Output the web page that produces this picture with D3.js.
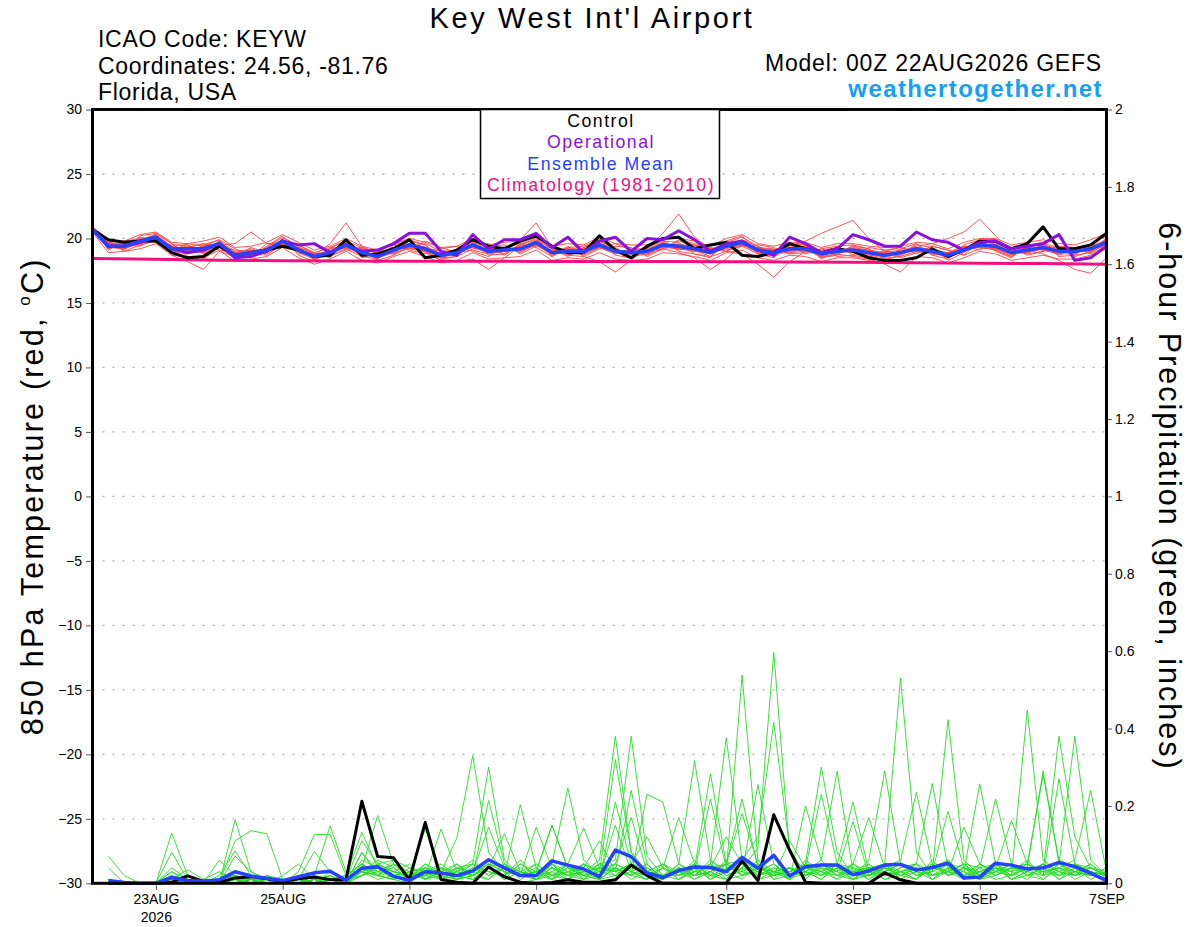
<!DOCTYPE html>
<html>
<head>
<meta charset="utf-8">
<title>Key West Int'l Airport - GEFS meteogram</title>
<style>
  body { margin: 0; background: #fff; }
  svg { display: block; font-family: "Liberation Sans", Arial, Helvetica, sans-serif; }
  .axis text { font-size: 14px; fill: #000; font-family: "Liberation Sans", Arial, sans-serif; }
  .axis line { stroke: #555; stroke-width: 1; }
  .axis .domain { display: none; }
  .grid { stroke: #b0b0b0; stroke-width: 1.3; stroke-dasharray: 2,8; }
  .member-t { fill: none; stroke: #ff4646; stroke-width: 1; opacity: 0.9; }
  .member-p { fill: none; stroke: #26dc26; stroke-width: 0.9; }
  .thick { fill: none; stroke-linejoin: round; }
</style>
</head>
<body>
<svg id="chart" width="1200" height="927"></svg>
<script src="https://d3js.org/d3.v7.min.js"></script>
<script>
  // Run info
  const runStart = new Date(Date.UTC(2026, 7, 22, 0));
  const runEnd = new Date(Date.UTC(2026, 8, 7, 0));
  const stepHours = 6;

  // Tick values
  const tempTicks = [-30, -25, -20, -15, -10, -5, 0, 5, 10, 15, 20, 25, 30];
  const precipTicks = [0, 0.2, 0.4, 0.6, 0.8, 1, 1.2, 1.4, 1.6, 1.8, 2];
  const dateTicks = ["2026-08-23", "2026-08-25", "2026-08-27", "2026-08-29", "2026-09-01", "2026-09-03", "2026-09-05", "2026-09-07"];
  const dateLabels = ["23AUG", "25AUG", "27AUG", "29AUG", "1SEP", "3SEP", "5SEP", "7SEP"];

  // 850 hPa temperature (C), 00Z 22AUG -> 00Z 7SEP every 6 h
  const controlTemp = [20.7,19.9,19.7,19.8,19.8,18.9,18.5,18.6,19.4,18.7,18.9,19.1,19.4,19.1,18.6,18.7,19.9,18.7,18.8,19.2,19.9,18.5,18.7,19.1,19.9,
    19.4,19.2,19.8,20.2,19.4,18.9,18.9,20.2,19.1,18.5,19.4,20.0,20.1,19.2,19.5,19.7,18.7,18.6,18.9,19.6,
    19.2,18.9,19.2,19.0,18.5,18.3,18.3,18.5,19.2,18.6,19.1,19.8,19.8,19.2,19.6,20.9,19.2,19.2,19.5,20.4];
  const operationalTemp = [20.7,19.4,19.4,19.7,20.1,19.2,18.9,19.1,19.6,18.5,18.6,19.0,19.8,19.5,19.6,18.9,19.5,19.0,19.1,19.6,20.4,20.4,19.0,18.7,20.3,
    19.2,19.9,19.9,20.4,19.3,20.1,18.9,19.8,20.1,19.0,20.0,19.9,20.6,19.9,19.0,19.6,19.8,19.1,18.7,20.1,
    19.6,18.9,19.2,20.3,19.9,19.4,19.4,20.5,19.9,19.7,19.1,19.7,19.8,19.2,19.4,19.6,20.3,18.3,18.5,19.4];
  const meanTemp = [20.7,19.4,19.4,19.8,20.1,19.2,19.2,19.2,19.6,18.7,18.9,19.1,19.8,
    19.1,18.6,18.9,19.5,18.9,18.6,19.1,19.5,19.2,18.7,18.9,19.5,19.0,
    19.1,19.2,19.7,18.9,19.0,19.0,19.5,19.0,18.9,19.0,19.5,19.4,19.2,
    18.9,19.4,19.7,19.1,18.9,19.2,19.2,18.8,19.0,19.1,18.9,18.7,18.9,
    19.2,19.0,18.7,19.1,19.5,19.4,18.9,19.1,19.3,19.0,19.0,19.2,19.7];
  // daily climatology, 00Z 22AUG -> 00Z 7SEP
  const climoTemp = [18.45,18.38,18.32,18.28,18.25,18.24,18.23,18.22,18.22,18.21,18.2,18.18,18.15,18.12,18.08,18.05,18.0];

  const memberTemps = [
    [20.8,19.6,19.3,19.9,20.3,19.0,18.8,19.4,19.9,18.5,18.7,19.3,20.1,19.4,18.3,19.2,19.9,18.6,18.4,19.5,19.8,18.9,18.3,19.2,19.8,18.7,18.8,19.6,20.1,18.6,19.3,19.4,19.9,18.7,18.5,19.4,19.9,19.0,18.8,18.6,19.8,20.2,18.8,18.5,19.6,19.5,18.4,19.4,19.5,18.6,18.3,19.2,19.6,18.7,18.4,19.5,19.9,19.0,18.5,19.5,19.7,18.6,18.7,19.6,20.2],
    [20.6,19.2,19.6,19.7,19.9,19.4,19.5,18.9,19.3,18.9,19.2,18.8,19.5,19.3,18.9,18.6,19.2,19.3,18.9,18.8,19.3,19.6,19.0,18.6,19.2,19.4,19.5,18.8,19.4,19.3,18.7,18.6,19.2,19.4,19.3,18.6,19.2,19.9,19.6,19.3,19.1,19.4,19.5,19.3,18.8,18.9,19.2,18.6,18.7,19.3,19.1,18.5,18.9,19.4,19.1,18.7,19.2,19.8,19.3,18.7,19.0,19.4,19.3,18.8,19.4],
    [20.9,19.5,19.1,20.2,20.4,19.6,18.6,18.3,19.8,19.0,18.5,19.4,20.2,18.7,18.2,19.3,19.8,18.5,18.9,19.6,19.9,19.5,18.4,18.6,19.9,19.3,18.7,19.5,20.0,19.2,18.6,19.3,19.8,19.2,18.4,19.3,19.8,19.7,18.8,18.5,19.7,20.1,19.4,18.6,19.5,19.6,18.5,18.7,19.5,19.2,18.4,18.6,19.5,19.3,18.3,18.9,19.8,19.7,19.2,18.8,19.6,19.3,18.6,19.0,20.0],
    [20.5,19.8,19.7,19.5,19.8,19.1,19.3,19.6,19.4,18.4,19.0,19.2,19.6,19.5,18.8,18.7,19.1,19.2,18.5,18.9,19.2,19.8,19.3,18.9,19.1,18.8,19.3,19.0,19.5,19.1,19.2,18.7,19.3,19.6,19.1,18.7,19.3,19.2,19.5,19.2,19.0,19.5,19.3,19.1,18.9,19.0,19.1,19.3,18.9,18.6,19.0,19.3,19.0,18.8,18.9,19.4,19.3,19.1,18.6,19.3,19.1,18.8,19.2,19.5,19.5],
    [20.7,19.3,19.5,19.6,20.0,18.7,18.2,17.6,19.0,18.6,19.1,18.9,19.7,19.0,18.5,19.0,19.7,19.1,18.3,18.7,19.4,19.0,18.8,19.1,19.4,18.9,19.0,19.3,19.8,18.8,18.9,19.1,19.6,18.9,18.8,19.1,19.6,19.3,19.0,18.8,19.3,19.8,19.0,18.8,19.1,19.3,18.9,18.9,19.0,18.8,18.6,19.0,19.3,19.1,18.6,19.0,19.6,19.5,18.8,19.0,19.4,19.1,18.9,19.3,19.8],
    [20.8,19.5,19.2,19.9,20.2,19.3,19.0,19.1,19.5,18.8,18.8,19.0,19.9,19.2,18.7,19.6,21.2,19.4,18.8,19.3,19.6,19.1,18.6,18.8,19.6,19.1,19.2,19.1,19.6,19.0,19.1,18.9,19.4,19.1,19.0,18.9,19.4,19.5,19.3,19.0,19.5,19.6,19.0,18.8,19.3,19.1,18.7,19.1,19.2,19.0,18.8,18.8,19.1,18.9,18.8,19.2,19.4,19.3,19.0,19.2,19.2,18.9,19.1,19.1,19.6],
    [20.6,19.4,19.5,19.8,20.1,19.2,19.3,19.3,19.6,18.7,18.9,19.1,19.8,19.0,18.6,18.9,19.4,18.9,18.7,19.0,19.5,19.3,18.8,18.9,19.4,19.6,19.1,19.9,21.2,19.3,18.9,19.0,19.4,19.0,19.0,19.0,19.5,19.4,19.1,18.9,19.4,19.6,19.2,19.0,19.2,19.1,18.9,19.0,19.1,18.9,18.8,18.9,19.2,19.0,18.8,19.1,19.5,19.4,19.0,19.1,19.3,19.0,19.1,19.2,19.7],
    [20.7,19.7,19.3,19.6,20.0,19.0,19.1,19.0,19.4,18.8,18.6,19.3,19.6,19.2,18.4,18.8,19.3,18.8,18.7,19.2,19.3,19.0,18.5,19.0,19.3,18.9,19.2,19.0,19.5,18.8,19.2,18.8,19.3,18.8,19.1,19.2,20.4,21.9,20.1,19.2,19.2,19.5,18.9,18.7,19.0,19.4,18.6,19.2,19.0,18.7,18.5,19.1,19.0,18.9,18.5,19.3,19.3,19.2,18.7,19.3,19.1,18.8,18.8,19.4,19.5],
    [20.8,19.2,19.6,19.7,20.2,19.3,19.2,19.3,19.7,18.9,19.0,19.0,19.9,19.0,18.8,19.0,19.6,19.0,18.5,19.1,19.6,19.3,18.8,18.8,19.6,19.1,19.0,19.3,19.8,19.0,19.1,19.2,19.5,19.1,18.8,18.8,19.4,19.2,19.1,18.6,19.0,18.8,18.0,17.0,18.2,19.0,18.9,18.9,19.2,19.1,18.8,18.8,19.3,19.1,18.8,19.0,19.6,19.3,19.0,19.0,19.4,19.2,19.0,19.1,19.8],
    [20.6,19.3,19.4,19.9,20.0,19.1,19.1,19.4,19.5,18.6,18.9,19.2,19.7,19.1,18.5,18.8,19.4,18.7,18.6,19.2,19.4,19.1,18.6,19.0,19.4,19.1,19.2,19.1,19.6,19.0,19.1,18.9,19.6,19.0,18.9,19.1,19.4,19.3,19.3,19.0,19.3,19.6,19.2,19.1,19.4,19.8,20.4,20.9,21.4,20.0,19.0,18.9,19.2,19.0,18.6,19.0,19.4,19.5,18.8,19.1,19.2,18.9,19.1,19.3,19.6],
    [20.7,19.5,19.2,19.6,19.9,19.4,19.0,19.2,19.5,18.8,18.8,19.0,19.9,19.2,18.7,18.9,19.5,19.0,18.7,18.9,19.6,19.3,18.8,18.7,19.5,19.0,19.0,19.2,19.7,18.9,19.0,19.1,19.4,19.1,18.9,19.0,19.6,19.5,19.2,18.8,19.5,19.7,19.1,19.0,19.1,19.2,18.8,19.1,19.0,18.9,18.6,19.0,19.4,19.6,20.0,20.5,21.5,20.2,18.9,19.0,19.2,19.1,18.9,19.2,19.7],
    [20.8,19.6,19.5,19.8,20.2,19.2,19.4,19.0,19.6,18.7,19.0,19.2,19.8,19.1,18.6,19.0,19.6,18.9,18.6,19.1,19.5,19.2,18.7,18.9,19.5,19.0,19.1,19.2,19.6,18.9,19.0,19.0,19.5,19.0,18.9,19.0,19.5,19.4,19.2,18.9,19.4,19.7,19.1,18.9,19.2,19.2,18.8,19.0,19.1,18.9,18.7,18.9,19.2,19.0,18.7,19.1,19.5,19.4,18.9,19.1,18.8,18.3,17.6,17.3,18.5],
    [20.6,19.9,19.0,19.5,20.4,19.6,18.8,19.5,19.9,19.2,18.6,19.6,19.4,19.5,18.9,18.5,19.8,19.3,18.4,19.5,19.1,18.8,19.2,19.4,19.0,18.6,19.4,19.6,19.3,18.6,19.4,18.6,18.2,17.4,18.3,19.3,19.1,19.8,19.5,19.2,19.0,19.9,19.4,18.6,19.5,18.8,19.2,19.4,18.7,18.5,19.1,19.3,18.8,19.4,19.1,18.7,19.8,19.1,18.6,19.4,19.5,18.7,19.3,19.5,19.2],
    [20.9,19.1,19.8,20.0,19.7,19.5,19.5,18.8,19.3,18.5,19.3,18.9,20.0,18.8,18.9,19.3,19.2,18.6,19.0,18.8,19.8,19.5,18.5,18.6,19.7,19.3,18.8,19.5,19.9,19.2,18.7,19.3,19.8,19.3,18.6,18.8,19.2,18.9,18.5,17.6,18.4,19.5,19.3,19.2,18.8,19.5,18.5,18.8,19.4,19.2,18.4,18.7,19.6,18.7,18.9,19.4,19.1,19.7,19.2,18.8,19.0,19.4,18.7,18.9,20.0],
    [20.5,19.7,19.5,19.4,20.0,18.9,19.3,19.6,19.1,18.9,19.1,18.7,19.6,19.3,18.5,19.2,19.4,19.2,18.9,19.3,19.2,19.0,18.3,18.2,18.4,17.6,18.5,19.4,19.5,18.7,19.3,19.1,19.3,18.8,19.2,19.2,19.7,19.1,19.4,19.1,19.6,19.4,18.8,19.1,19.0,19.4,19.0,18.8,19.3,19.1,18.9,18.6,19.0,19.2,18.5,19.2,19.3,19.6,19.1,18.9,19.5,19.2,18.8,19.4,19.9],
    [20.7,19.5,19.6,19.5,20.3,19.4,19.0,18.9,19.8,18.6,18.8,19.3,19.5,19.3,18.8,18.8,19.6,18.8,18.8,19.0,19.6,19.3,19.0,19.1,19.3,19.1,19.3,18.9,19.6,19.1,19.2,19.1,19.7,18.9,19.1,19.1,19.3,19.6,19.3,19.0,19.3,19.8,19.0,19.1,19.0,19.1,18.6,18.8,18.6,18.4,18.0,17.4,18.6,19.1,18.9,19.2,19.3,19.2,19.0,19.3,19.1,19.1,19.2,19.0,19.5],
    [20.8,19.3,19.2,20.1,19.9,19.0,19.6,19.4,19.4,19.1,19.0,19.0,19.9,18.9,18.4,19.1,19.3,19.1,18.5,19.3,19.3,19.0,18.9,18.7,19.6,18.8,19.0,19.4,19.5,19.0,18.8,19.2,19.3,19.2,18.8,18.9,19.7,19.2,19.0,19.1,19.5,19.5,19.2,18.8,19.3,19.0,19.0,19.2,18.9,19.0,18.9,19.1,19.1,18.8,18.8,19.3,19.6,19.2,18.8,18.9,19.2,19.1,19.2,18.9,19.6],
    [20.6,19.6,19.4,19.7,20.2,19.3,19.2,19.0,19.5,19.6,20.5,19.6,19.7,19.0,18.7,19.0,19.4,19.0,18.6,19.2,19.4,19.1,18.6,19.0,19.5,19.2,19.1,19.2,19.7,18.9,19.1,19.0,19.5,19.1,18.9,19.1,19.4,19.3,19.1,18.9,19.3,19.6,19.1,19.0,19.2,19.3,18.9,19.0,19.2,18.9,18.8,19.0,19.1,18.9,18.7,19.0,19.5,19.3,18.9,19.0,19.3,19.0,19.1,19.1,19.8],
    [20.9,19.9,19.8,20.3,20.5,19.7,19.6,19.8,20.1,19.3,19.4,19.7,20.3,19.7,19.1,19.4,20.0,19.4,19.1,19.6,20.0,19.7,19.3,19.4,20.0,19.5,19.7,19.8,20.3,19.4,19.6,19.5,20.1,19.6,19.5,19.5,20.0,20.0,19.8,19.4,20.0,20.3,19.6,19.4,19.7,19.7,19.3,19.6,19.6,19.4,19.3,19.4,19.7,19.6,19.2,19.7,20.0,20.0,19.5,19.7,19.9,19.6,19.5,19.9,20.4],
    [20.5,18.9,19.0,19.2,19.6,18.7,18.6,18.5,19.1,18.2,18.4,18.6,19.3,18.5,18.0,18.4,19.0,18.3,18.1,18.6,19.0,18.6,18.1,18.3,18.9,18.4,18.5,18.6,19.1,18.3,18.5,18.4,18.9,18.4,18.3,18.4,18.9,18.8,18.6,18.3,18.9,19.1,18.5,18.3,18.7,18.6,18.2,18.5,18.5,18.3,18.1,18.3,18.6,18.5,18.1,18.5,19.0,18.8,18.3,18.5,18.7,18.4,18.4,18.7,19.2]
  ];

  // 6-hour precipitation (inches), 06Z 22AUG -> 00Z 7SEP
  const controlPrecip = [0,0,0,0, .003,.019,.005,.003, .014,.017,.012,.005, .012,.016,.01,.009,
    .212,.069,.066,.009, .157,.01,.003,0, .042,.017,.003,0, .002,.009,.003,.003,
    .009,.047,.02,0, 0,0,0,0, .058,.007,.177,.086, .003,0,0,0,
    0,.027,.009,0, 0,0,0,0, 0,0,0,0, 0,0,0,0];
  const meanPrecip = [.007,.002,0,0, .015,.007,.005,.009, .03,.019,.013,.007, .017,.027,.031,.008,
    .039,.043,.018,.008, .03,.027,.02,.032, .061,.04,.02,.02, .058,.047,.037,.017,
    .086,.069,.027,.015, .033,.042,.041,.03, .067,.039,.072,.019, .043,.047,.047,.022,
    .032,.047,.049,.034, .041,.052,.014,.016, .052,.047,.037,.04, .054,.043,.026,.007];

  const memberPrecips = [
    [.07,.02,0,0, .01,0,0,.01, .02,.01,0,0, 0,.01,.02,0, .02,.04,.01,0, .03,.01,.02,.05, .03,.02,0,.01, .04,.02,.05,.03, .32,.08,.02,.01, .03,.02,.05,.01, .02,.04,.03,.01, .20,.06,.02,.04, .01,.03,.05,.02, .04,.06,.01,.03, .05,.02,.04,.03, .38,.12,.04,.02],
    [.04,0,0,0, 0,.01,0,0, .01,0,.01,0, .02,.01,0,0, .08,.03,.02,.01, .02,.04,.01,.03, .05,.01,.03,.02, .01,.04,.02,.01, .21,.05,.03,.02, .04,.01,.03,.05, .02,.06,.01,.02, .05,.30,.08,.02, .03,.01,.02,.04, .02,.05,.03,.01, .04,.03,.06,.02, .27,.05,.03,.01],
    [0,0,0,0, .13,.02,0,0, 0,.01,0,0, .01,0,.03,.01, .03,.01,.02,0, .04,.02,.03,.06, .02,.05,.01,.03, .15,.04,.02,.01, .04,.02,.05,.01, .03,.05,.02,.01, .06,.02,.04,.03, .04,.23,.05,.01, .02,.05,.01,.03, .01,.04,.02,.05, .03,.05,.02,.04, .05,.38,.06,.02],
    [0,0,0,0, .08,.01,0,.01, .02,0,.01,0, 0,.02,.01,0, .05,.02,.01,.03, .01,.03,.02,.01, .04,.02,.06,.01, .03,.01,.04,.02, .15,.03,.01,.04, .02,.06,.01,.03, .05,.01,.02,.04, .03,.06,.29,.03, .04,.02,.03,.01, .06,.02,.04,.03, .01,.02,.05,.03, .04,.06,.24,.03],
    [0,0,0,0, .04,.01,0,0, .01,.02,0,0, .01,0,.02,0, .08,.02,.01,.02, .02,.01,.04,.02, .05,.03,.02,.04, .01,.03,.02,.05, .06,.38,.07,.02, .01,.03,.02,.06, .02,.04,.03,.01, .04,.02,.05,.21, .03,.04,.02,.01, .05,.03,.01,.04, .02,.04,.03,.05, .03,.02,.05,.02],
    [0,0,0,0, .03,0,0,0, 0,.01,.01,0, 0,.01,0,.01, .04,.175,.05,.02, .03,.02,.01,.04, .02,.04,.03,.01, .05,.02,.03,.04, .03,.24,.05,.01, .04,.02,.06,.03, .01,.05,.02,.03, .05,.04,.03,.16, .02,.03,.05,.02, .03,.06,.02,.01, .04,.01,.03,.05, .02,.04,.01,.03],
    [0,0,0,0, .03,.01,0,0, .02,0,0,.01, 0,.02,.01,0, .03,.05,.06,.02, .14,.03,.01,.02, .04,.01,.05,.02, .03,.05,.01,.02, .05,.17,.03,.02, .02,.04,.01,.05, .03,.02,.04,.01, .06,.03,.02,.05, .17,.04,.02,.03, .05,.02,.04,.01, .03,.05,.02,.04, .01,.03,.04,.02],
    [0,0,0,0, .01,.035,.01,0, 0,.01,0,0, .01,0,.01,.02, .05,.03,.04,.01, .02,.14,.03,.02, .01,.04,.02,.03, .02,.01,.05,.03, .04,.02,.23,.21, .05,.02,.03,.01, .04,.03,.05,.02, .03,.01,.04,.02, .06,.29,.05,.03, .02,.04,.01,.05, .03,.02,.04,.01, .05,.02,.03,.01],
    [0,0,0,0, 0,.01,0,.06, .02,.01,0,0, 0,.01,0,.01, .03,.02,.06,.04, .02,.03,.117,.33, .08,.03,.02,.05, .02,.04,.03,.01, .02,.05,.12,.04, .17,.05,.02,.03, .05,.01,.03,.04, .02,.05,.03,.01, .04,.05,.53,.08, .02,.03,.05,.02, .04,.01,.03,.02, .05,.03,.02,.04],
    [.01,0,0,0, 0,0,.01,.03, .01,0,.01,0, .01,0,.01,0, .06,.04,.02,.03, .01,.02,.04,.05, .30,.06,.02,.01, .05,.03,.01,.04, .03,.02,.04,.01, .05,.317,.06,.02, .03,.05,.01,.04, .02,.03,.05,.03, .01,.04,.06,.235, .05,.02,.03,.01, .02,.04,.05,.03, .04,.01,.03,.02],
    [0,0,0,0, .01,0,0,0, .164,.03,.01,0, .01,.02,0,.01, .03,.06,.04,.01, .04,.03,.01,.02, .214,.05,.03,.01, .04,.02,.03,.05, .02,.04,.03,.05, .01,.04,.283,.05, .02,.03,.05,.01, .03,.05,.02,.01, .03,.02,.04,.05, .258,.04,.02,.03, .05,.01,.02,.04, .02,.03,.05,.01],
    [0,0,0,0, .02,0,0,0, .11,.136,.128,.01, 0,.01,.02,0, .04,.02,.03,.05, .01,.04,.02,.03, .145,.04,.02,.03, .01,.05,.02,.03, .05,.03,.01,.04, .02,.03,.218,.04, .05,.02,.03,.04, .02,.04,.01,.03, .04,.03,.05,.02, .03,.423,.06,.02, .04,.03,.01,.05, .03,.02,.04,.02],
    [0,0,0,0, 0,.01,0,.02, .084,.02,.01,0, .02,0,.01,0, .02,.05,.03,.02, .03,.02,.05,.01, .04,.128,.03,.02, .05,.01,.03,.04, .03,.05,.02,.01, .04,.02,.05,.376, .06,.03,.02,.04, .01,.05,.03,.02, .05,.02,.03,.04, .03,.186,.04,.02, .03,.05,.02,.01, .04,.03,.02,.03],
    [.01,0,0,0, 0,0,.01,0, .07,.03,.01,.01, 0,.02,.01,0, .03,.04,.02,.01, .05,.03,.02,.04, .03,.02,.203,.04, .02,.03,.05,.01, .04,.01,.03,.05, .02,.04,.01,.03, .538,.06,.03,.02, .04,.03,.05,.02, .02,.05,.03,.01, .04,.03,.145,.05, .02,.04,.03,.05, .01,.04,.02,.03],
    [0,0,0,0, .01,0,0,0, 0,.01,0,.02, .05,.01,0,.01, .02,.03,.05,.03, .04,.01,.03,.02, .05,.03,.02,.145, .04,.02,.01,.05, .03,.05,.04,.02, .03,.01,.04,.05, .218,.04,.02,.03, .05,.02,.04,.01, .04,.03,.02,.05, .01,.04,.03,.257, .05,.02,.04,.03, .02,.05,.03,.01],
    [0,0,0,0, 0,.02,0,0, .01,0,.02,0, .03,.126,.126,.02, .05,.02,.01,.04, .03,.05,.02,.01, .04,.02,.05,.03, .15,.04,.02,.03, .02,.03,.05,.01, .04,.02,.03,.05, .18,.05,.03,.02, .03,.01,.05,.04, .03,.05,.02,.04, .02,.03,.05,.04, .218,.05,.02,.03, .04,.02,.03,.02],
    [0,0,0,0, 0,0,.01,.01, .02,.01,0,0, .01,.082,.03,.01, .02,.04,.03,.02, .05,.02,.04,.03, .01,.05,.02,.03, .05,.246,.06,.02, .04,.02,.01,.05, .03,.05,.02,.04, .03,.255,.05,.02, .04,.03,.01,.05, .02,.04,.03,.01, .05,.02,.04,.03, .04,.162,.05,.02, .03,.05,.04,.02],
    [0,0,0,0, .02,.01,0,0, .01,0,.02,.01, 0,.02,.148,.03, .03,.02,.05,.01, .02,.04,.03,.05, .03,.02,.04,.01, .02,.05,.143,.04, .05,.03,.02,.04, .01,.03,.05,.02, .04,.09,.597,.08, .03,.02,.04,.03, .05,.01,.03,.04, .02,.03,.05,.01, .04,.02,.448,.06, .03,.02,.04,.03],
    [0,0,0,0, .01,0,0,.01, 0,.02,.01,0, .02,0,.01,.02, .132,.04,.02,.03, .01,.03,.05,.02, .04,.01,.03,.05, .02,.03,.04,.11, .03,.05,.02,.01, .04,.02,.03,.05, .06,.12,.416,.09, .02,.04,.03,.05, .03,.02,.04,.05, .01,.03,.02,.04, .05,.03,.04,.291, .05,.03,.02,.04],
    [0,0,0,0, .02,0,.01,0, .01,.01,0,0, 0,.01,0,.01, .11,.05,.03,.02, .04,.02,.01,.03, .05,.04,.02,.03, .04,.02,.03,.06, .38,.08,.03,.02, .05,.03,.04,.12, .05,.03,.02,.11, .04,.05,.02,.03, .02,.04,.03,.05, .03,.05,.04,.02, .03,.04,.05,.28, .06,.04,.03,.02]
  ];

  // Layout
  const plot = { left: 92.5, right: 1106.5, top: 109.5, bottom: 883.3 };

  const svg = d3.select("#chart");

  const x = d3.scaleUtc().domain([runStart, runEnd]).range([plot.left, plot.right]);
  const yT = d3.scaleLinear().domain([-30, 30]).range([plot.bottom, plot.top]);
  const yP = d3.scaleLinear().domain([0, 2]).range([plot.bottom, plot.top]);

  const hourMs = 3600 * 1000;
  const tempTime = i => new Date(runStart.getTime() + i * stepHours * hourMs);
  const precipTime = i => new Date(runStart.getTime() + (i + 1) * stepHours * hourMs);
  const climoTime = i => new Date(runStart.getTime() + i * 24 * hourMs);

  const tempLine = d3.line().x((d, i) => x(tempTime(i))).y(d => yT(d));
  const precipLine = d3.line().x((d, i) => x(precipTime(i))).y(d => yP(d));
  const climoLine = d3.line().x((d, i) => x(climoTime(i))).y(d => yT(d));

  // Gridlines (temperature ticks)
  svg.append("g")
    .selectAll("line")
    .data(tempTicks.filter(t => t > -30 && t < 30))
    .enter()
    .append("line")
    .attr("class", "grid")
    .attr("x1", plot.left)
    .attr("x2", plot.right)
    .attr("y1", d => yT(d))
    .attr("y2", d => yT(d));

  // Precip members
  svg.append("g")
    .selectAll("path")
    .data(memberPrecips)
    .enter()
    .append("path")
    .attr("class", "member-p")
    .attr("d", precipLine);

  // Temperature members
  svg.append("g")
    .selectAll("path")
    .data(memberTemps)
    .enter()
    .append("path")
    .attr("class", "member-t")
    .attr("d", tempLine);

  // Climatology
  svg.append("path")
    .attr("class", "thick")
    .attr("d", climoLine(climoTemp))
    .attr("stroke", "#f0107e")
    .attr("stroke-width", 3);

  // Control
  svg.append("path")
    .attr("class", "thick")
    .attr("d", precipLine(controlPrecip))
    .attr("stroke", "#000")
    .attr("stroke-width", 3);
  svg.append("path")
    .attr("class", "thick")
    .attr("d", tempLine(controlTemp))
    .attr("stroke", "#000")
    .attr("stroke-width", 3);

  // Operational
  svg.append("path")
    .attr("class", "thick")
    .attr("d", tempLine(operationalTemp))
    .attr("stroke", "#8a10dc")
    .attr("stroke-width", 3);

  // Ensemble mean
  svg.append("path")
    .attr("class", "thick")
    .attr("d", precipLine(meanPrecip))
    .attr("stroke", "#2442ff")
    .attr("stroke-width", 3.5);
  svg.append("path")
    .attr("class", "thick")
    .attr("d", tempLine(meanTemp))
    .attr("stroke", "#2442ff")
    .attr("stroke-width", 3.5);

  // Axes
  svg.append("g")
    .attr("class", "axis")
    .attr("transform", `translate(${plot.left - 1.5},0)`)
    .call(d3.axisLeft(yT).tickValues(tempTicks).tickSize(5).tickPadding(4).tickFormat(d3.format("d")));

  svg.append("g")
    .attr("class", "axis")
    .attr("transform", `translate(${plot.right + 1.5},0)`)
    .call(d3.axisRight(yP).tickValues(precipTicks).tickSize(4).tickPadding(3).tickFormat(d => String(+d.toFixed(1))));

  const parseDay = d3.utcParse("%Y-%m-%d");
  const xAxis = svg.append("g")
    .attr("class", "axis")
    .attr("transform", `translate(0,${plot.bottom + 1.5})`)
    .call(d3.axisBottom(x).tickValues(dateTicks.map(parseDay)).tickSize(5).tickPadding(4)
      .tickFormat((d, i) => dateLabels[i]));
  xAxis.select(".tick text")
    .append("tspan")
    .attr("x", 0)
    .attr("dy", "1.3em")
    .text("2026");

  // Frame
  svg.append("rect")
    .attr("x", plot.left)
    .attr("y", plot.top)
    .attr("width", plot.right - plot.left)
    .attr("height", plot.bottom - plot.top)
    .attr("fill", "none")
    .attr("stroke", "#000")
    .attr("stroke-width", 3);

  // Legend box
  const legendItems = [
    { label: "Control", color: "#000" },
    { label: "Operational", color: "#8a10dc" },
    { label: "Ensemble Mean", color: "#2442ff" },
    { label: "Climatology (1981-2010)", color: "#f0107e" }
  ];
  const legend = svg.append("g");
  legend.append("rect")
    .attr("x", 480.5)
    .attr("y", plot.top)
    .attr("width", 239)
    .attr("height", 89)
    .attr("fill", "#fff")
    .attr("stroke", "#000")
    .attr("stroke-width", 1.5);
  legend.selectAll("text")
    .data(legendItems)
    .enter()
    .append("text")
    .attr("x", 601)
    .attr("y", (d, i) => 127 + i * 21.3)
    .attr("text-anchor", "middle")
    .attr("font-size", 17.7)
    .attr("letter-spacing", 1.5)
    .attr("fill", d => d.color)
    .text(d => d.label);

  // Titles
  svg.append("text")
    .attr("x", 592)
    .attr("y", 28)
    .attr("text-anchor", "middle")
    .attr("font-size", 29)
    .attr("letter-spacing", 2.6)
    .text("Key West Int'l Airport");

  const infoLeft = ["ICAO Code: KEYW", "Coordinates: 24.56, -81.76", "Florida, USA"];
  svg.append("g")
    .selectAll("text")
    .data(infoLeft)
    .enter()
    .append("text")
    .attr("x", 98)
    .attr("y", (d, i) => 47 + i * 26.5)
    .attr("font-size", 23)
    .attr("letter-spacing", 0.7)
    .text(d => d);

  svg.append("text")
    .attr("x", 1102)
    .attr("y", 71)
    .attr("text-anchor", "end")
    .attr("font-size", 23)
    .attr("letter-spacing", 0.8)
    .text("Model: 00Z 22AUG2026 GEFS");

  svg.append("text")
    .attr("x", 1103)
    .attr("y", 97)
    .attr("text-anchor", "end")
    .attr("font-size", 24)
    .attr("font-weight", "bold")
    .attr("letter-spacing", 1.4)
    .attr("fill", "#14a0f5")
    .text("weathertogether.net");

  // Axis titles
  const leftTitle = svg.append("text")
    .attr("transform", `translate(43,${(plot.top + plot.bottom) / 2}) rotate(-90)`)
    .attr("text-anchor", "middle")
    .attr("font-size", 30.5)
    .attr("letter-spacing", 2.2);
  leftTitle.append("tspan").text("850 hPa Temperature (red, ");
  leftTitle.append("tspan").attr("font-size", 17).attr("dy", -13).text("o");
  leftTitle.append("tspan").attr("dy", 13).text("C)");

  svg.append("text")
    .attr("transform", `translate(1159,${(plot.top + plot.bottom) / 2}) rotate(90)`)
    .attr("text-anchor", "middle")
    .attr("font-size", 30.5)
    .attr("letter-spacing", 2)
    .text("6-hour Precipitation (green, inches)");
</script>
</body>
</html>
